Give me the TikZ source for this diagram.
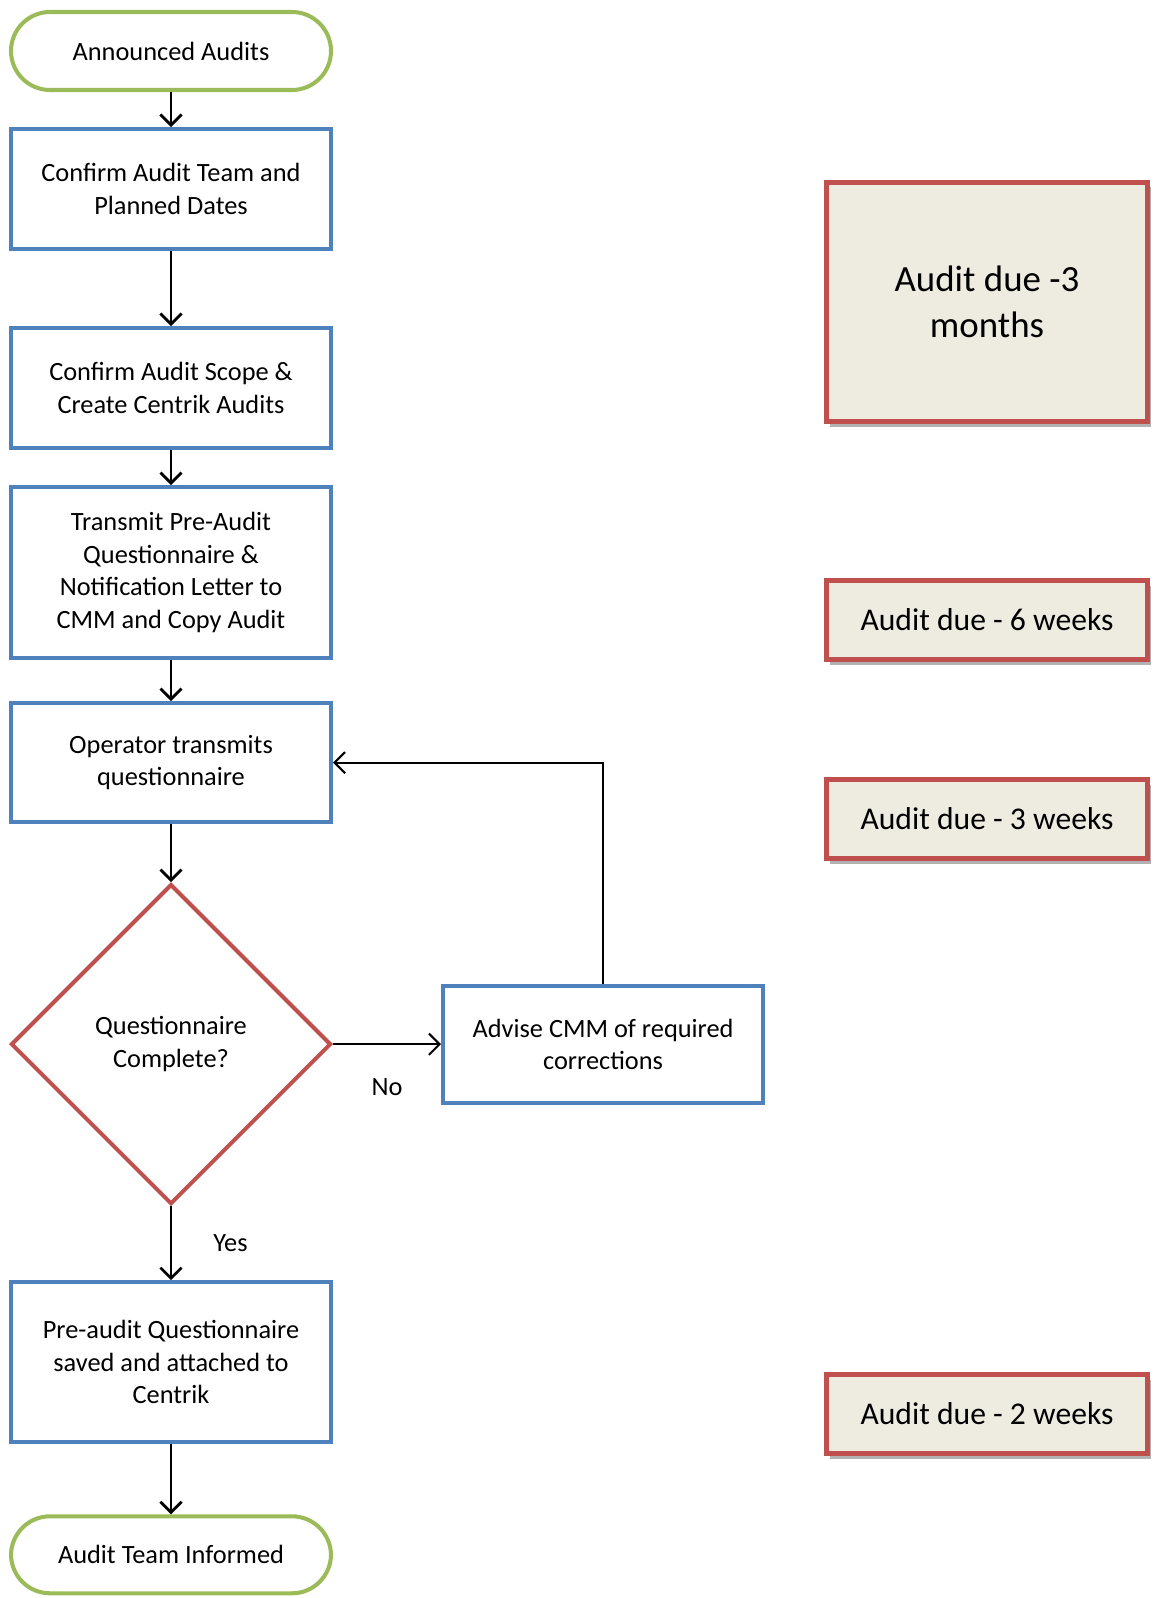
\documentclass[tikz,border=0pt]{standalone}
\usepackage{fontspec}
\setmainfont{Carlito}
\usepackage{tikz}
\usetikzlibrary{positioning,shapes.geometric,shadows,arrows.meta}
\definecolor{termgreen}{HTML}{9BBB59}
\definecolor{procblue}{HTML}{4F81BD}
\definecolor{decred}{HTML}{C0504D}
\definecolor{duefill}{HTML}{EEECE1}
\begin{document}
\begin{tikzpicture}[>={Straight Barb[length=6pt,width=12pt]},
  font=\fontsize{15}{18.5}\selectfont]
\tikzstyle{terminal}=[draw=termgreen,line width=2.3pt,rectangle,rounded corners=0.78cm,
  minimum width=6.4cm,minimum height=1.56cm,align=center]
\tikzstyle{process}=[draw=procblue,line width=2.3pt,rectangle,
  minimum width=6.4cm,align=center]
\tikzstyle{decision}=[draw=decred,line width=2.3pt,diamond,
  minimum width=6.4cm,minimum height=6.4cm,align=center]
\tikzstyle{due}=[draw=decred,fill=duefill,line width=2.3pt,rectangle,
  minimum width=6.42cm,minimum height=1.58cm,align=center,
  font=\fontsize{18}{22}\selectfont,
  drop shadow={shadow xshift=0.06cm,shadow yshift=-0.1cm,fill=black!60,opacity=0.5}]
\tikzstyle{flow}=[->,line width=1.6pt]
\tikzstyle{loop}=[->,line width=1.2pt]
\useasboundingbox (0,0) rectangle (23.06,-31.96);
\node [terminal] (start) at (3.42,-1.02) {Announced Audits};
\node [process,minimum height=2.4cm,below=0.7cm of start] (team) {Confirm Audit Team and\\Planned Dates};
\node [process,minimum height=2.4cm,below=1.5cm of team] (scope) {Confirm Audit Scope \&\\Create Centrik Audits};
\node [process,minimum height=3.42cm,below=0.7cm of scope] (send) {Transmit Pre-Audit\\Questionnaire \&\\Notification Letter to\\CMM and Copy Audit};
\node [process,minimum height=2.38cm,below=0.82cm of send] (op) {Operator transmits\\questionnaire};
\node [decision,below=1.16cm of op] (check) {Questionnaire\\Complete?};
\node [process,minimum height=2.34cm,right=2.16cm of check] (advise) {Advise CMM of required\\corrections};
\node [process,minimum height=3.2cm,below=1.48cm of check] (saved) {Pre-audit Questionnaire\\saved and attached to\\Centrik};
\node [terminal,minimum height=1.54cm,below=1.4cm of saved] (end) {Audit Team Informed};
\node [due,minimum height=4.78cm,font=\fontsize{21}{26}\selectfont] (months) at (19.74,-6.04) {Audit due -3\\months};
\node [due] (sixwk) at (19.74,-12.4) {Audit due - 6 weeks};
\node [due] (threewk) at (19.74,-16.38) {Audit due - 3 weeks};
\node [due] (twowk) at (19.74,-28.28) {Audit due - 2 weeks};
\draw [flow] (start) -- (team);
\draw [flow] (team) -- (scope);
\draw [flow] (scope) -- (send);
\draw [flow] (send) -- (op);
\draw [flow] (op) -- (check);
\draw [flow] (check) -- node [midway,right=0.7cm] {Yes} (saved);
\draw [loop] (check) -- node [midway,below=0.55cm] {No} (advise);
\draw [loop] (advise.north) |- (op.east);
\draw [flow] (saved) -- (end);
\end{tikzpicture}
\end{document}
